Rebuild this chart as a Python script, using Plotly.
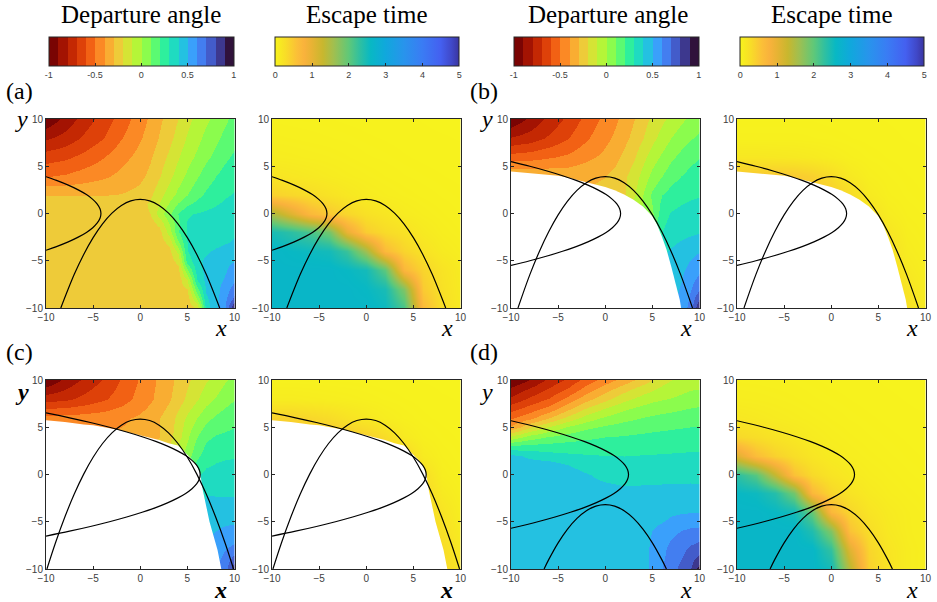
import plotly.graph_objects as go

W, H = 937, 602

# ---------------- grids (data coordinates) ----------------
XD = [-10, -8, -6, -4, -2, 0, 1, 2, 3, 4, 5, 6, 7, 8, 9, 10]
YD = [10, 8, 6, 4, 2, 0, -2, -4, -6, -8, -10]
YDA = [10, 8, 6, 4, 2, 1, 0, -1, -2, -3, -4, -5, -6, -7, -8, -9, -10]
XD4 = [-10, -8, -6, -4, -2, 0, 2, 4, 5, 6, 7, 8, 9, 10]
YD4 = [10, 9, 8, 7, 6, 5, 4, 3, 2, 1, 0, -2, -4, -6, -8, -10]
XE = [-10, -8, -6, -4, -2, 0, 2, 4, 6, 8, 10]
YE = [10, 8, 6, 4, 2, 0, -2, -4, -6, -8, -10]

# ---------------- departure angle (rows from top to bottom) ----------------
dep_a = [
    [-0.982, -0.868, -0.753, -0.656, -0.559, -0.444, -0.382, -0.321, -0.259, -0.2, -0.13, -0.07, -0.02, 0.03, 0.08, 0.14],
    [-0.815, -0.762, -0.682, -0.603, -0.506, -0.409, -0.356, -0.294, -0.23, -0.16, -0.09, -0.03, 0.03, 0.08, 0.13, 0.17],
    [-0.647, -0.621, -0.568, -0.506, -0.435, -0.365, -0.312, -0.25, -0.18, -0.11, -0.04, 0.02, 0.08, 0.13, 0.18, 0.22],
    [-0.506, -0.488, -0.453, -0.418, -0.374, -0.321, -0.276, -0.21, -0.13, -0.05, 0.02, 0.09, 0.15, 0.2, 0.24, 0.27],
    [-0.303, -0.303, -0.303, -0.303, -0.294, -0.268, -0.22, -0.14, -0.05, 0.03, 0.1, 0.17, 0.22, 0.26, 0.29, 0.31],
    [-0.25, -0.25, -0.25, -0.25, -0.25, -0.245, -0.18, -0.1, 0.01, 0.11, 0.18, 0.23, 0.27, 0.295, 0.315, 0.33],
    [-0.25, -0.25, -0.25, -0.25, -0.25, -0.25, -0.2, -0.06, 0.08, 0.2, 0.29, 0.31, 0.32, 0.33, 0.34, 0.35],
    [-0.25, -0.25, -0.25, -0.25, -0.25, -0.25, -0.25, -0.17, 0.0, 0.18, 0.305, 0.325, 0.335, 0.345, 0.355, 0.37],
    [-0.25, -0.25, -0.25, -0.25, -0.25, -0.25, -0.25, -0.24, -0.06, 0.19, 0.305, 0.335, 0.35, 0.36, 0.375, 0.39],
    [-0.25, -0.25, -0.25, -0.25, -0.25, -0.25, -0.25, -0.25, -0.17, 0.09, 0.3, 0.34, 0.355, 0.37, 0.39, 0.41],
    [-0.25, -0.25, -0.25, -0.25, -0.25, -0.25, -0.25, -0.25, -0.23, -0.07, 0.3, 0.35, 0.385, 0.415, 0.435, 0.455],
    [-0.25, -0.25, -0.25, -0.25, -0.25, -0.25, -0.25, -0.25, -0.25, -0.17, 0.24, 0.375, 0.42, 0.45, 0.475, 0.5],
    [-0.25, -0.25, -0.25, -0.25, -0.25, -0.25, -0.25, -0.25, -0.25, -0.23, 0.08, 0.35, 0.43, 0.46, 0.49, 0.545],
    [-0.25, -0.25, -0.25, -0.25, -0.25, -0.25, -0.25, -0.25, -0.25, -0.25, -0.1, 0.3, 0.43, 0.465, 0.51, 0.585],
    [-0.25, -0.25, -0.25, -0.25, -0.25, -0.25, -0.25, -0.25, -0.25, -0.25, -0.2, 0.17, 0.415, 0.47, 0.55, 0.66],
    [-0.25, -0.25, -0.25, -0.25, -0.25, -0.25, -0.25, -0.25, -0.25, -0.25, -0.25, 0.0, 0.38, 0.47, 0.575, 0.74],
    [-0.25, -0.25, -0.25, -0.25, -0.25, -0.25, -0.25, -0.25, -0.25, -0.25, -0.25, -0.2, 0.35, 0.475, 0.6, 0.95],
]
dep_b = [
    [-0.982, -0.876, -0.771, -0.674, -0.568, -0.471, -0.418, -0.365, -0.303, -0.24, -0.18, -0.12, -0.07, -0.02, 0.02, 0.07],
    [-0.79, -0.753, -0.682, -0.603, -0.515, -0.426, -0.382, -0.329, -0.268, -0.2, -0.13, -0.06, 0.0, 0.05, 0.09, 0.12],
    [-0.555, -0.54, -0.51, -0.479, -0.426, -0.374, -0.329, -0.276, -0.21, -0.13, -0.05, 0.02, 0.08, 0.13, 0.17, 0.2],
    [-0.3, -0.31, -0.32, -0.33, -0.32, -0.303, -0.268, -0.22, -0.15, -0.06, 0.03, 0.1, 0.16, 0.2, 0.23, 0.25],
    [-0.31, -0.31, -0.31, -0.31, -0.294, -0.268, -0.25, -0.21, -0.11, 0.0, 0.12, 0.2, 0.24, 0.27, 0.285, 0.295],
    [-0.294, -0.294, -0.294, -0.276, -0.25, -0.2, -0.15, -0.1, -0.04, 0.02, 0.08, 0.26, 0.31, 0.33, 0.34, 0.345],
    [-0.25, -0.25, -0.25, -0.25, -0.2, -0.1, -0.05, 0.0, 0.05, 0.12, 0.2, 0.3, 0.35, 0.37, 0.38, 0.395],
    [-0.25, -0.25, -0.25, -0.25, -0.2, -0.1, 0.0, 0.1, 0.2, 0.28, 0.34, 0.38, 0.41, 0.44, 0.47, 0.495],
    [-0.25, -0.25, -0.25, -0.25, -0.2, -0.1, 0.0, 0.1, 0.2, 0.3, 0.36, 0.4, 0.43, 0.48, 0.53, 0.585],
    [-0.25, -0.25, -0.25, -0.25, -0.2, -0.1, 0.0, 0.1, 0.2, 0.3, 0.38, 0.42, 0.46, 0.51, 0.59, 0.69],
    [-0.25, -0.25, -0.25, -0.25, -0.2, -0.1, 0.0, 0.1, 0.2, 0.3, 0.4, 0.46, 0.5, 0.53, 0.64, 0.93],
]
dep_c = [
    [-0.99, -0.876, -0.78, -0.691, -0.594, -0.488, -0.435, -0.382, -0.33, -0.276, -0.22, -0.16, -0.11, -0.06, -0.01, 0.03],
    [-0.74, -0.72, -0.67, -0.615, -0.55, -0.462, -0.418, -0.365, -0.312, -0.25, -0.18, -0.11, -0.04, 0.01, 0.06, 0.1],
    [-0.46, -0.455, -0.45, -0.44, -0.418, -0.382, -0.347, -0.303, -0.25, -0.17, -0.08, 0.0, 0.07, 0.12, 0.15, 0.17],
    [-0.382, -0.382, -0.382, -0.382, -0.382, -0.365, -0.338, -0.303, -0.24, -0.14, -0.02, 0.1, 0.18, 0.21, 0.22, 0.23],
    [-0.34, -0.34, -0.34, -0.34, -0.34, -0.294, -0.25, -0.2, -0.15, -0.05, 0.05, 0.18, 0.25, 0.28, 0.29, 0.295],
    [-0.3, -0.3, -0.3, -0.3, -0.25, -0.2, -0.15, -0.1, -0.05, 0.05, 0.2, 0.29, 0.33, 0.335, 0.34, 0.34],
    [-0.25, -0.25, -0.25, -0.25, -0.2, -0.15, -0.1, -0.05, 0.0, 0.1, 0.2, 0.3, 0.395, 0.39, 0.39, 0.39],
    [-0.25, -0.25, -0.25, -0.25, -0.2, -0.15, -0.1, -0.05, 0.0, 0.1, 0.2, 0.35, 0.44, 0.45, 0.45, 0.45],
    [-0.25, -0.25, -0.25, -0.25, -0.2, -0.15, -0.1, -0.05, 0.0, 0.1, 0.2, 0.38, 0.48, 0.5, 0.52, 0.53],
    [-0.25, -0.25, -0.25, -0.25, -0.2, -0.15, -0.1, -0.05, 0.0, 0.1, 0.2, 0.42, 0.5, 0.56, 0.6, 0.64],
    [-0.25, -0.25, -0.25, -0.25, -0.2, -0.15, -0.1, -0.05, 0.0, 0.1, 0.2, 0.46, 0.54, 0.6, 0.65, 0.9],
]
dep_d = [
    [-0.996, -0.894, -0.774, -0.674, -0.563, -0.453, -0.356, -0.25, -0.2, -0.14, -0.1, -0.06, -0.02, -0.01],
    [-0.876, -0.787, -0.687, -0.588, -0.457, -0.344, -0.237, -0.148, -0.117, -0.073, -0.047, -0.024, -0.006, 0.0],
    [-0.775, -0.674, -0.591, -0.464, -0.336, -0.229, -0.13, -0.057, -0.027, -0.007, 0.007, 0.023, 0.038, 0.05],
    [-0.647, -0.559, -0.471, -0.332, -0.2, -0.1, -0.022, 0.03, 0.05, 0.064, 0.076, 0.089, 0.1, 0.11],
    [-0.51, -0.426, -0.299, -0.164, -0.055, 0.02, 0.069, 0.105, 0.118, 0.128, 0.135, 0.143, 0.15, 0.155],
    [-0.382, -0.21, -0.09, 0.012, 0.076, 0.117, 0.146, 0.168, 0.176, 0.183, 0.189, 0.195, 0.2, 0.205],
    [-0.07, 0.048, 0.11, 0.15, 0.18, 0.2, 0.21, 0.22, 0.225, 0.229, 0.233, 0.237, 0.24, 0.24],
    [0.22, 0.234, 0.24, 0.246, 0.25, 0.253, 0.255, 0.264, 0.267, 0.271, 0.274, 0.278, 0.28, 0.285],
    [0.43, 0.38, 0.343, 0.323, 0.31, 0.303, 0.3, 0.305, 0.307, 0.309, 0.311, 0.313, 0.315, 0.315],
    [0.45, 0.45, 0.45, 0.4, 0.36, 0.338, 0.331, 0.335, 0.337, 0.339, 0.341, 0.342, 0.343, 0.345],
    [0.45, 0.45, 0.45, 0.45, 0.41, 0.372, 0.362, 0.366, 0.368, 0.37, 0.37, 0.371, 0.372, 0.37],
    [0.45, 0.45, 0.45, 0.45, 0.45, 0.445, 0.425, 0.428, 0.43, 0.43, 0.43, 0.43, 0.435, 0.43],
    [0.45, 0.45, 0.45, 0.45, 0.45, 0.45, 0.45, 0.45, 0.45, 0.45, 0.48, 0.49, 0.495, 0.495],
    [0.45, 0.45, 0.45, 0.45, 0.45, 0.45, 0.45, 0.45, 0.5, 0.54, 0.57, 0.603, 0.62, 0.63],
    [0.45, 0.45, 0.45, 0.45, 0.45, 0.45, 0.45, 0.45, 0.53, 0.57, 0.64, 0.67, 0.725, 0.76],
    [0.45, 0.45, 0.45, 0.45, 0.45, 0.45, 0.45, 0.45, 0.533, 0.6, 0.655, 0.73, 0.79, 0.96],
]

# ---------------- escape time (rows from y=10 down to y=-10) ----------------
esc_a = [
    [0.04, 0.037, 0.035, 0.032, 0.028, 0.025, 0.022, 0.02, 0.018, 0.015, 0.015],
    [0.062, 0.056, 0.05, 0.045, 0.04, 0.034, 0.03, 0.025, 0.022, 0.02, 0.018],
    [0.096, 0.088, 0.078, 0.07, 0.058, 0.046, 0.04, 0.033, 0.028, 0.024, 0.022],
    [0.19, 0.16, 0.136, 0.11, 0.088, 0.071, 0.056, 0.045, 0.038, 0.032, 0.027],
    [0.41, 0.35, 0.29, 0.22, 0.16, 0.11, 0.084, 0.066, 0.052, 0.042, 0.035],
    [1.52, 1.11, 0.7, 0.5, 0.36, 0.24, 0.18, 0.11, 0.08, 0.058, 0.042],
    [2.47, 2.33, 2.15, 1.88, 0.98, 0.46, 0.31, 0.23, 0.13, 0.08, 0.055],
    [2.65, 2.6, 2.56, 2.51, 2.24, 1.59, 0.66, 0.38, 0.22, 0.12, 0.08],
    [2.65, 2.65, 2.65, 2.65, 2.6, 2.51, 2.02, 0.72, 0.38, 0.21, 0.115],
    [2.65, 2.65, 2.65, 2.65, 2.65, 2.6, 2.47, 1.79, 0.48, 0.24, 0.12],
    [2.65, 2.65, 2.65, 2.65, 2.65, 2.65, 2.56, 2.15, 0.66, 0.27, 0.13],
]
esc_b = [
    [0.03, 0.03, 0.03, 0.03, 0.03, 0.025, 0.022, 0.02, 0.018, 0.015, 0.015],
    [0.05, 0.05, 0.05, 0.05, 0.045, 0.04, 0.032, 0.026, 0.022, 0.018, 0.016],
    [0.16, 0.16, 0.15, 0.14, 0.12, 0.09, 0.06, 0.04, 0.03, 0.024, 0.02],
    [0.5, 0.5, 0.5, 0.48, 0.42, 0.3, 0.14, 0.07, 0.045, 0.032, 0.025],
    [0.5, 0.5, 0.5, 0.5, 0.5, 0.45, 0.3, 0.12, 0.06, 0.04, 0.03],
    [0.45, 0.45, 0.45, 0.45, 0.45, 0.45, 0.4, 0.25, 0.1, 0.055, 0.04],
    [0.4, 0.4, 0.4, 0.4, 0.4, 0.4, 0.4, 0.35, 0.18, 0.075, 0.05],
    [0.35, 0.35, 0.35, 0.35, 0.35, 0.35, 0.35, 0.35, 0.25, 0.1, 0.06],
    [0.3, 0.3, 0.3, 0.3, 0.3, 0.3, 0.3, 0.3, 0.3, 0.14, 0.07],
    [0.3, 0.3, 0.3, 0.3, 0.3, 0.3, 0.3, 0.3, 0.3, 0.2, 0.09],
    [0.3, 0.3, 0.3, 0.3, 0.3, 0.3, 0.3, 0.3, 0.3, 0.24, 0.1],
]
esc_c = [
    [0.035, 0.035, 0.033, 0.03, 0.028, 0.025, 0.022, 0.02, 0.018, 0.016, 0.015],
    [0.1, 0.1, 0.09, 0.08, 0.07, 0.055, 0.042, 0.032, 0.025, 0.02, 0.018],
    [0.4, 0.4, 0.35, 0.3, 0.22, 0.15, 0.09, 0.055, 0.035, 0.027, 0.022],
    [0.5, 0.5, 0.5, 0.5, 0.5, 0.42, 0.3, 0.13, 0.06, 0.038, 0.028],
    [0.5, 0.5, 0.5, 0.5, 0.5, 0.5, 0.45, 0.38, 0.12, 0.055, 0.035],
    [0.45, 0.45, 0.45, 0.45, 0.45, 0.45, 0.45, 0.4, 0.28, 0.08, 0.045],
    [0.4, 0.4, 0.4, 0.4, 0.4, 0.4, 0.4, 0.4, 0.35, 0.13, 0.06],
    [0.35, 0.35, 0.35, 0.35, 0.35, 0.35, 0.35, 0.35, 0.35, 0.2, 0.08],
    [0.35, 0.35, 0.35, 0.35, 0.35, 0.35, 0.35, 0.35, 0.35, 0.25, 0.1],
    [0.35, 0.35, 0.35, 0.35, 0.35, 0.35, 0.35, 0.35, 0.35, 0.3, 0.13],
    [0.35, 0.35, 0.35, 0.35, 0.35, 0.35, 0.35, 0.35, 0.35, 0.35, 0.16],
]
esc_d = [
    [0.054, 0.05, 0.045, 0.04, 0.033, 0.027, 0.023, 0.02, 0.017, 0.015, 0.013],
    [0.085, 0.08, 0.071, 0.06, 0.047, 0.038, 0.031, 0.025, 0.021, 0.018, 0.015],
    [0.16, 0.135, 0.11, 0.09, 0.072, 0.055, 0.042, 0.034, 0.027, 0.022, 0.02],
    [0.34, 0.28, 0.21, 0.16, 0.11, 0.08, 0.06, 0.045, 0.036, 0.029, 0.024],
    [1.09, 0.63, 0.41, 0.28, 0.18, 0.115, 0.082, 0.062, 0.047, 0.036, 0.029],
    [2.33, 2.06, 1.34, 0.58, 0.33, 0.2, 0.13, 0.088, 0.065, 0.047, 0.037],
    [2.6, 2.56, 2.38, 1.88, 0.69, 0.36, 0.21, 0.13, 0.086, 0.063, 0.047],
    [2.65, 2.65, 2.6, 2.51, 1.97, 0.7, 0.36, 0.2, 0.125, 0.084, 0.062],
    [2.65, 2.65, 2.65, 2.65, 2.42, 1.79, 0.56, 0.28, 0.145, 0.088, 0.06],
    [2.65, 2.65, 2.65, 2.65, 2.65, 2.29, 1.07, 0.37, 0.19, 0.1, 0.068],
    [2.65, 2.65, 2.65, 2.65, 2.65, 2.51, 1.4, 0.42, 0.2, 0.1, 0.065],
]

# ---------------- black curves ----------------
down_a_x = [-8.43, -7, -6, -5, -4, -3, -2, -1, 0, 1, 2, 3, 4, 5, 6, 7, 8.43]
down_a_y = [-10, -6.44, -4.33, -2.55, -1.09, 0.04, 0.85, 1.34, 1.5, 1.34, 0.85, 0.04, -1.09, -2.55, -4.33, -6.44, -10]
down_b_x = [-9.26, -8, -7, -6, -5, -4, -3, -2, -1, 0, 1, 2, 3, 4, 5, 6, 7, 8, 9.26]
down_b_y = [-10, -6.47, -4.04, -1.93, -0.15, 1.31, 2.44, 3.25, 3.74, 3.9, 3.74, 3.25, 2.44, 1.31, -0.15, -1.93, -4.04, -6.47, -10]
down_c_x = [-9.9, -9, -8, -7, -6, -5, -4, -3, -2, -1, 0, 1, 2, 3, 4, 5, 6, 7, 8, 9, 9.9]
down_c_y = [-10, -7.25, -4.5, -2.07, 0.04, 1.82, 3.28, 4.41, 5.22, 5.71, 5.87, 5.71, 5.22, 4.41, 3.28, 1.82, 0.04, -2.07, -4.5, -7.25, -10]
down_d_x = [-6.49, -6, -5, -4, -3, -2, -1, 0, 1, 2, 3, 4, 5, 6, 6.49]
down_d_y = [-10, -9.01, -7.23, -5.77, -4.64, -3.83, -3.34, -3.18, -3.34, -3.83, -4.64, -5.77, -7.23, -9.01, -10]

side_a_y = [3.89, 3.5, 3, 2.5, 2, 1.5, 1, 0.5, 0, -0.5, -1, -1.5, -2, -2.5, -3, -3.5, -3.89]
side_a_x = [-10, -8.89, -7.64, -6.58, -5.71, -5.04, -4.56, -4.27, -4.17, -4.27, -4.56, -5.04, -5.71, -6.58, -7.64, -8.89, -10]
side_b_y = [5.5, 5, 4.5, 4, 3.5, 3, 2.5, 2, 1.5, 1, 0.5, 0, -0.5, -1, -1.5, -2, -2.5, -3, -3.5, -4, -4.5, -5, -5.5]
side_b_x = [-10, -8.0, -6.17, -4.53, -3.09, -1.84, -0.78, 0.09, 0.76, 1.25, 1.53, 1.63, 1.53, 1.25, 0.76, 0.09, -0.78, -1.84, -3.09, -4.53, -6.17, -8.0, -10]
side_c_y = [6.52, 6, 5.5, 5, 4.5, 4, 3.5, 3, 2.5, 2, 1.5, 1, 0.5, 0, -0.5, -1, -1.5, -2, -2.5, -3, -3.5, -4, -4.5, -5, -5.5, -6, -6.52]
side_c_x = [-10, -7.5, -5.29, -3.27, -1.44, 0.2, 1.64, 2.89, 3.95, 4.82, 5.49, 5.98, 6.26, 6.36, 6.26, 5.98, 5.49, 4.82, 3.95, 2.89, 1.64, 0.2, -1.44, -3.27, -5.29, -7.5, -10]
side_d_y = [5.69, 5, 4.5, 4, 3.5, 3, 2.5, 2, 1.5, 1, 0.5, 0, -0.5, -1, -1.5, -2, -2.5, -3, -3.5, -4, -4.5, -5, -5.69]
side_d_x = [-10, -7.16, -5.33, -3.69, -2.25, -1.0, 0.06, 0.93, 1.6, 2.09, 2.37, 2.47, 2.37, 2.09, 1.6, 0.93, 0.06, -1.0, -2.25, -3.69, -5.33, -7.16, -10]

# ---------------- edge of the undefined (white) regions ----------------
mask_b_x = [-10.5, -10, -8, -6, -5, -4, -2.3, 0, 1, 2, 3, 4, 5, 5.5, 6, 6.5, 7, 7.5, 7.9, 8.05, 8.1, -10.5]
mask_b_y = [4.48, 4.44, 4.3, 4.15, 4.0, 3.8, 3.4, 2.8, 2.45, 2.0, 1.45, 0.75, -0.3, -1.2, -2.4, -3.8, -5.6, -7.4, -9.1, -10, -10.5, -10.5]
mask_c_x = [-10.5, -10, -8, -6, -5, -2.5, 0, 2, 3, 4, 5, 5.5, 6, 6.36, 6.64, 7.35, 8.2, 8.66, 8.7, -10.5]
mask_c_y = [5.8, 5.76, 5.55, 5.3, 5.2, 4.77, 4.17, 3.64, 3.3, 3.06, 2.1, 1.6, 0.9, 0.1, -1.66, -5, -8, -10, -10.5, -10.5]

AX_TICKS = [-10, -5, 0, 5, 10]
DEP_TICKS = [-1, -0.5, 0, 0.5, 1]
ESC_TICKS = [0, 1, 2, 3, 4, 5]

# ---------------- colour maps ----------------
TURBO = ['#30123b', '#4145ab', '#4675ed', '#39a2fc', '#1bcfd4', '#24eca6', '#61fc6c',
         '#a4fc3b', '#d1e834', '#f3c63a', '#fe9b2d', '#f36315', '#d93806', '#b11901', '#7a0403']


def _rgb(h):
    h = h.lstrip('#')
    return [int(h[i:i + 2], 16) for i in (0, 2, 4)]


def _sample(anchors, p):
    n = len(anchors) - 1
    f = min(max(p, 0.0), 1.0) * n
    i = min(int(f), n - 1)
    t = f - i
    a, b = _rgb(anchors[i]), _rgb(anchors[i + 1])
    c = [round(a[k] + (b[k] - a[k]) * t) for k in range(3)]
    return 'rgb(%d,%d,%d)' % tuple(c)


dep_scale = []
for k in range(20):
    col = _sample(TURBO, 1 - k / 19)
    dep_scale.append([k / 20, col])
    dep_scale.append([(k + 1) / 20, col])

# escape-time colour bar (value -> colour)
ESC_COLS = [
    (0.0, '#f7f41c'), (0.3, '#f8dc28'), (0.6, '#fbbf38'), (0.8, '#f9b23c'), (1.0, '#e8b334'),
    (1.3, '#c8b72e'), (1.6, '#a0bf50'), (2.0, '#60c878'), (2.3, '#30c0a0'), (2.6, '#08b8c4'),
    (3.0, '#10a8dc'), (3.5, '#2894ec'), (4.0, '#3a7cf4'), (4.5, '#4460f0'), (4.8, '#4048c8'),
    (5.0, '#3a35a0'),
]
esc_scale = [[v / 5, c] for v, c in ESC_COLS]

# ---------------- layout geometry (pixels) ----------------
COL_L = [46, 272, 511, 737]
PW = 188.5
ROW_T = [119, 380]
PH = 189

panels = [
    (0, 0, 'dep', XD, YDA, dep_a, 'a'),
    (1, 0, 'esc', XE, YE, esc_a, 'a'),
    (2, 0, 'dep', XD, YD, dep_b, 'b'),
    (3, 0, 'esc', XE, YE, esc_b, 'b'),
    (0, 1, 'dep', XD, YD, dep_c, 'c'),
    (1, 1, 'esc', XE, YE, esc_c, 'c'),
    (2, 1, 'dep', XD4, YD4, dep_d, 'd'),
    (3, 1, 'esc', XE, YE, esc_d, 'd'),
]
curves = {
    'a': [(down_a_x, down_a_y), (side_a_x, side_a_y)],
    'b': [(down_b_x, down_b_y), (side_b_x, side_b_y)],
    'c': [(down_c_x, down_c_y), (side_c_x, side_c_y)],
    'd': [(down_d_x, down_d_y), (side_d_x, side_d_y)],
}
masks = {'b': (mask_b_x, mask_b_y), 'c': (mask_c_x, mask_c_y)}

fig = go.Figure()
TICKFONT = dict(family='Liberation Sans, Arial, sans-serif', size=10, color='#404040')
SERIF = 'Liberation Serif, Times New Roman, serif'

for idx, (c, r, kind, xs, ys, z, letter) in enumerate(panels):
    n = idx + 1
    xa = 'x' if n == 1 else 'x%d' % n
    ya = 'y' if n == 1 else 'y%d' % n
    show = (r == 0)
    cx = (COL_L[c] + PW / 2 + 1) / W
    common_cb = dict(orientation='h', x=cx, xanchor='center', y=1 - 37 / H, yanchor='top',
                     lenmode='fraction', thickness=29, thicknessmode='pixels',
                     outlinewidth=1, outlinecolor='#262626', tickfont=dict(TICKFONT, size=9),
                     ticks='inside', ticklen=3, tickcolor='#262626', xpad=0, ypad=0)
    if kind == 'dep':
        cb = dict(common_cb, len=185 / W, tickvals=DEP_TICKS,
                  ticktext=['-1', '-0.5', '0', '0.5', '1'])
        fig.add_trace(go.Heatmap(x=xs, y=ys[::-1], z=z[::-1], zsmooth='best',
                                 colorscale=dep_scale, zmin=-1, zmax=1, showscale=show,
                                 colorbar=cb, xaxis=xa, yaxis=ya, hoverinfo='skip'))
    else:
        cb = dict(common_cb, len=184 / W, tickvals=ESC_TICKS)
        fig.add_trace(go.Heatmap(x=xs, y=ys[::-1], z=z[::-1], zsmooth='best',
                                 colorscale=esc_scale, zmin=0, zmax=5, showscale=show,
                                 colorbar=cb, xaxis=xa, yaxis=ya, hoverinfo='skip'))
    if letter in masks:
        mx, my = masks[letter]
        fig.add_trace(go.Scatter(x=mx, y=my, mode='lines', fill='toself', fillcolor='white',
                                 line=dict(width=0, color='white'), xaxis=xa, yaxis=ya,
                                 hoverinfo='skip', showlegend=False))
    for cxs, cys in curves[letter]:
        fig.add_trace(go.Scatter(x=cxs, y=cys, mode='lines',
                                 line=dict(color='black', width=1.2, shape='spline', smoothing=1),
                                 xaxis=xa, yaxis=ya, hoverinfo='skip', showlegend=False))

    x0 = COL_L[c] / W
    x1 = (COL_L[c] + PW) / W
    y1 = 1 - ROW_T[r] / H
    y0 = 1 - (ROW_T[r] + PH) / H
    common = dict(range=[-10, 10], tickvals=AX_TICKS, ticks='inside', ticklen=3, tickwidth=1,
                  tickcolor='#262626', showline=True, linecolor='#262626', linewidth=1,
                  mirror='ticks', showgrid=False, zeroline=False, tickfont=TICKFONT, fixedrange=True)
    fig.layout['xaxis' if n == 1 else 'xaxis%d' % n] = dict(common, domain=[x0, x1], anchor=ya)
    fig.layout['yaxis' if n == 1 else 'yaxis%d' % n] = dict(common, domain=[y0, y1], anchor=xa)

    bold = (letter == 'c')
    xl = '<b><i>x</i></b>' if bold else '<i>x</i>'
    yl = '<b><i>y</i></b>' if bold else '<i>y</i>'
    xlab_y = 328 if r == 0 else 590
    fig.add_annotation(x=(COL_L[c] + PW - 14) / W, y=1 - xlab_y / H, xref='paper', yref='paper',
                       text=xl, showarrow=False, font=dict(family=SERIF, size=24, color='black'),
                       xanchor='center', yanchor='middle')
    if kind == 'dep':
        ylab_y = 119 if r == 0 else 392
        fig.add_annotation(x=(COL_L[c] - 24.5) / W, y=1 - ylab_y / H, xref='paper', yref='paper',
                           text=yl, showarrow=False, font=dict(family=SERIF, size=24, color='black'),
                           xanchor='center', yanchor='middle')

for cx, txt in [(140.5, 'Departure angle'), (366, 'Escape time'), (608, 'Departure angle'), (831, 'Escape time')]:
    fig.add_annotation(x=cx / W, y=1 - 15 / H, xref='paper', yref='paper', text=txt, showarrow=False,
                       font=dict(family=SERIF, size=25, color='black'), xanchor='center', yanchor='middle')

for px, py, txt in [(19, 91, '(a)'), (484, 91, '(b)'), (19, 352, '(c)'), (484, 352, '(d)')]:
    fig.add_annotation(x=px / W, y=1 - py / H, xref='paper', yref='paper', text=txt, showarrow=False,
                       font=dict(family=SERIF, size=24, color='black'), xanchor='center', yanchor='middle')

fig.update_layout(width=W, height=H, margin=dict(l=0, r=0, t=0, b=0, autoexpand=False),
                  paper_bgcolor='white', plot_bgcolor='white', showlegend=False)

fig.write_html('out.html')
